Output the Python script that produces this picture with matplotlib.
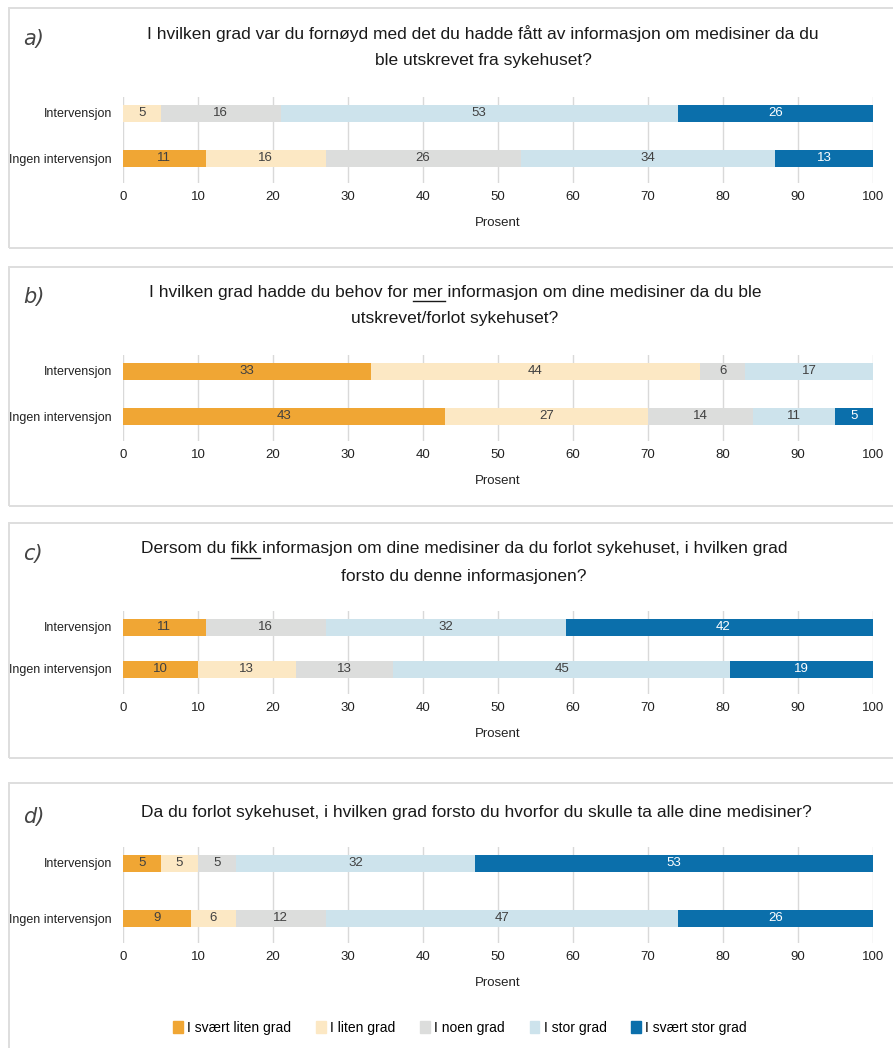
import matplotlib
matplotlib.use('Agg')
import matplotlib.pyplot as plt
from matplotlib.patches import Rectangle
from matplotlib.lines import Line2D
import numpy as np

plt.rcParams['font.family'] = ['Liberation Sans Narrow', 'Liberation Sans', 'DejaVu Sans']

categories = ['I svært liten grad', 'I liten grad', 'I noen grad', 'I stor grad', 'I svært stor grad']
colors = ['#F0A634', '#FCE8C4', '#DCDDDC', '#CDE3EC', '#0B6FAB']
groups = ['Intervensjon', 'Ingen intervensjon']

letters = ['a)', 'b)', 'c)', 'd)']
titles = [
    ['I hvilken grad var du fornøyd med det du hadde fått av informasjon om medisiner da du',
     'ble utskrevet fra sykehuset?'],
    ['I hvilken grad hadde du behov for mer informasjon om dine medisiner da du ble',
     'utskrevet/forlot sykehuset?'],
    ['Dersom du fikk informasjon om dine medisiner da du forlot sykehuset, i hvilken grad',
     'forsto du denne informasjonen?'],
    ['Da du forlot sykehuset, i hvilken grad forsto du hvorfor du skulle ta alle dine medisiner?'],
]
underlined = [None, 'mer', 'fikk', None]

# values per panel: [Intervensjon, Ingen intervensjon]
values_a = [[0, 5, 16, 53, 26], [11, 16, 26, 34, 13]]
values_b = [[33, 44, 6, 17, 0], [43, 27, 14, 11, 5]]
values_c = [[11, 0, 16, 32, 42], [10, 13, 13, 45, 19]]
values_d = [[5, 5, 5, 32, 53], [9, 6, 12, 47, 26]]
all_values = [values_a, values_b, values_c, values_d]

W, H = 893, 1048
fig = plt.figure(figsize=(W / 100, H / 100), dpi=100)

# layout in pixels
boxes = [(8, 248), (267, 506), (523, 758), (783, 1060)]
bar_y = [(113, 158), (371, 416), (627, 669), (863, 918)]
title_y = [(34, 61), (292, 319), (549, 576), (812, None)]
title_x = [483, 455, 464, 476]
ax_left, ax_right = 123, 873
bar_px = 17

def fx(px):
    return px / W

def fy(py):
    return 1 - py / H

renderer = fig.canvas.get_renderer()
title_fs = 12.5

for i in range(4):
    top, bot = boxes[i]
    fig.patches.append(Rectangle((fx(8.5), fy(bot)), fx(900), fy(top) - fy(bot),
                                 transform=fig.transFigure, fill=False,
                                 edgecolor='#dedede', lw=1.4, zorder=0))
    fig.text(fx(23), fy(title_y[i][0] + 5), letters[i], fontsize=15, style='italic',
             color='#444444', va='center', ha='left', family='DejaVu Sans', fontweight='light')

    for j, line in enumerate(titles[i]):
        yy = title_y[i][j]
        t = fig.text(fx(title_x[i]), fy(yy), line, fontsize=title_fs, ha='center', va='center', color='#1a1a1a')
        w = underlined[i]
        if w and w in line and j == 0:
            bb = t.get_window_extent(renderer)
            pre = line.split(w)[0]
            tmp1 = fig.text(0, 0, pre + w, fontsize=title_fs)
            tmp2 = fig.text(0, 0, w, fontsize=title_fs)
            w1 = tmp1.get_window_extent(renderer).width
            w2 = tmp2.get_window_extent(renderer).width
            tmp1.remove()
            tmp2.remove()
            x0 = bb.x0 + w1 - w2
            x1 = bb.x0 + w1 + 3
            yl = bb.y0 - 1
            fig.lines.append(Line2D([x0 / W, x1 / W], [yl / H, yl / H], transform=fig.transFigure,
                                    color='#1a1a1a', lw=1))

    y1, y2 = bar_y[i]
    unit = y2 - y1
    ax_top_px = y1 - 16
    ax_bot_px = y2 + 25
    ax = fig.add_axes([fx(ax_left), fy(ax_bot_px), fx(ax_right - ax_left), fy(ax_top_px) - fy(ax_bot_px)])
    ax.set_xlim(0, 100)
    ax.set_ylim(1 + 25 / unit, -16 / unit)
    vals = np.array(all_values[i])
    lefts = np.zeros(2)
    for k in range(5):
        ax.barh([0, 1], vals[:, k], left=lefts, height=bar_px / unit, color=colors[k], zorder=2)
        for r in range(2):
            v = vals[r, k]
            if v > 0:
                ax.text(lefts[r] + v / 2, r, str(v), ha='center', va='center', fontsize=9.5,
                        color='white' if k == 4 else '#404040', zorder=3)
        lefts = lefts + vals[:, k]
    ax.set_yticks([0, 1])
    ax.set_yticklabels(groups, fontsize=9, color='#222222')
    ax.set_xticks(np.arange(0, 101, 10))
    ax.tick_params(axis='x', labelsize=9.5, length=0, pad=6, labelcolor='#222222')
    ax.tick_params(axis='y', length=0, pad=8)
    ax.grid(axis='x', color='#d9d9d9', lw=1, zorder=0)
    ax.set_axisbelow(True)
    for s in ax.spines.values():
        s.set_visible(False)
    ax.set_xlabel('Prosent', fontsize=9.5, labelpad=10, color='#222222')

handles = [Rectangle((0, 0), 1, 1, color=c) for c in colors]
fig.legend(handles, categories, loc='center', bbox_to_anchor=(fx(460), fy(1028)), ncol=5,
           frameon=False, fontsize=10, handlelength=0.7, handleheight=0.9, handletextpad=0.3,
           columnspacing=1.8)

fig.savefig('out.png', dpi=100)
